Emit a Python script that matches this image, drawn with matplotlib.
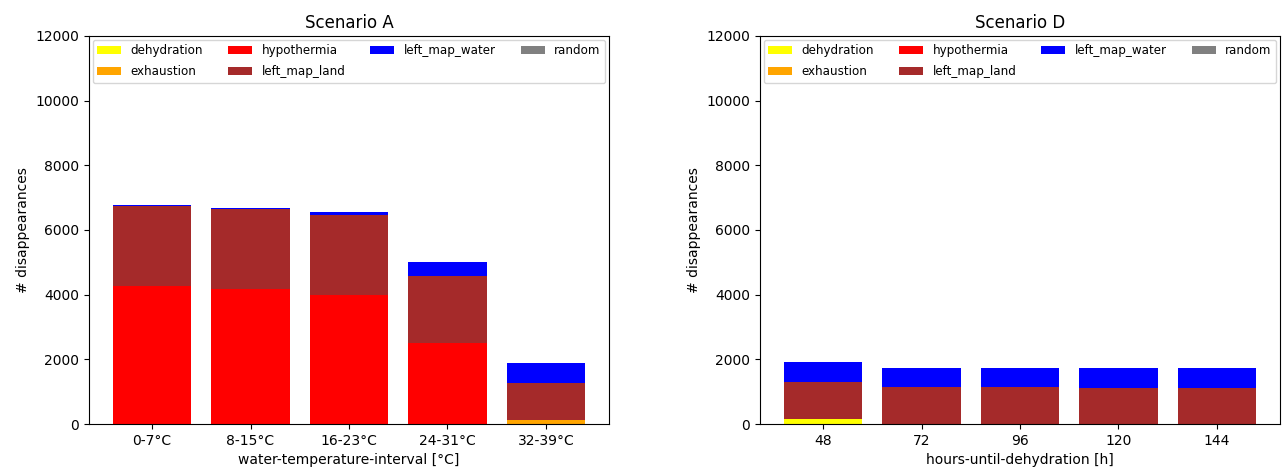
import matplotlib
matplotlib.use("Agg")
import matplotlib.pyplot as plt
import numpy as np

causes = ["dehydration", "exhaustion", "hypothermia", "left_map_land", "left_map_water", "random"]
colors = ["yellow", "orange", "red", "brown", "blue", "grey"]

a_labels = ["0-7°C", "8-15°C", "16-23°C", "24-31°C", "32-39°C"]
a_dehydration = [0, 0, 0, 0, 0]
a_exhaustion = [0, 0, 0, 0, 120]
a_hypothermia = [4270, 4170, 4000, 2505, 0]
a_left_map_land = [2475, 2470, 2455, 2085, 1160]
a_left_map_water = [35, 35, 90, 430, 620]
a_random = [0, 0, 0, 0, 0]

d_labels = ["48", "72", "96", "120", "144"]
d_dehydration = [140, 0, 0, 0, 0]
d_exhaustion = [0, 0, 0, 0, 0]
d_hypothermia = [0, 0, 0, 0, 0]
d_left_map_land = [1170, 1145, 1145, 1105, 1105]
d_left_map_water = [620, 585, 585, 625, 625]
d_random = [0, 0, 0, 0, 0]

fig = plt.figure(figsize=(12.86, 4.67), dpi=100)
ax1 = fig.add_axes([89/1286, 43/467, 520/1286, 388/467])
ax2 = fig.add_axes([760/1286, 43/467, 520/1286, 388/467])

def draw(ax, labels, series, title, xlabel):
    x = np.arange(len(labels))
    bottom = np.zeros(len(labels))
    for name, vals, c in zip(causes, series, colors):
        vals = np.array(vals, dtype=float)
        ax.bar(x, vals, bottom=bottom, color=c, label=name, width=0.8)
        bottom += vals
    ax.set_xticks(x)
    ax.set_xticklabels(labels)
    ax.set_ylim(0, 12000)
    ax.set_title(title)
    ax.set_xlabel(xlabel)
    ax.set_ylabel("# disappearances")
    ax.legend(loc="upper left", ncol=4, mode="expand", bbox_to_anchor=(0, 0, 1, 1),
              fontsize=8.6, borderaxespad=0.3, labelspacing=0.65)

draw(ax1, a_labels, [a_dehydration, a_exhaustion, a_hypothermia, a_left_map_land, a_left_map_water, a_random],
     "Scenario A", "water-temperature-interval [°C]")
draw(ax2, d_labels, [d_dehydration, d_exhaustion, d_hypothermia, d_left_map_land, d_left_map_water, d_random],
     "Scenario D", "hours-until-dehydration [h]")

fig.savefig("out.png", dpi=100)
